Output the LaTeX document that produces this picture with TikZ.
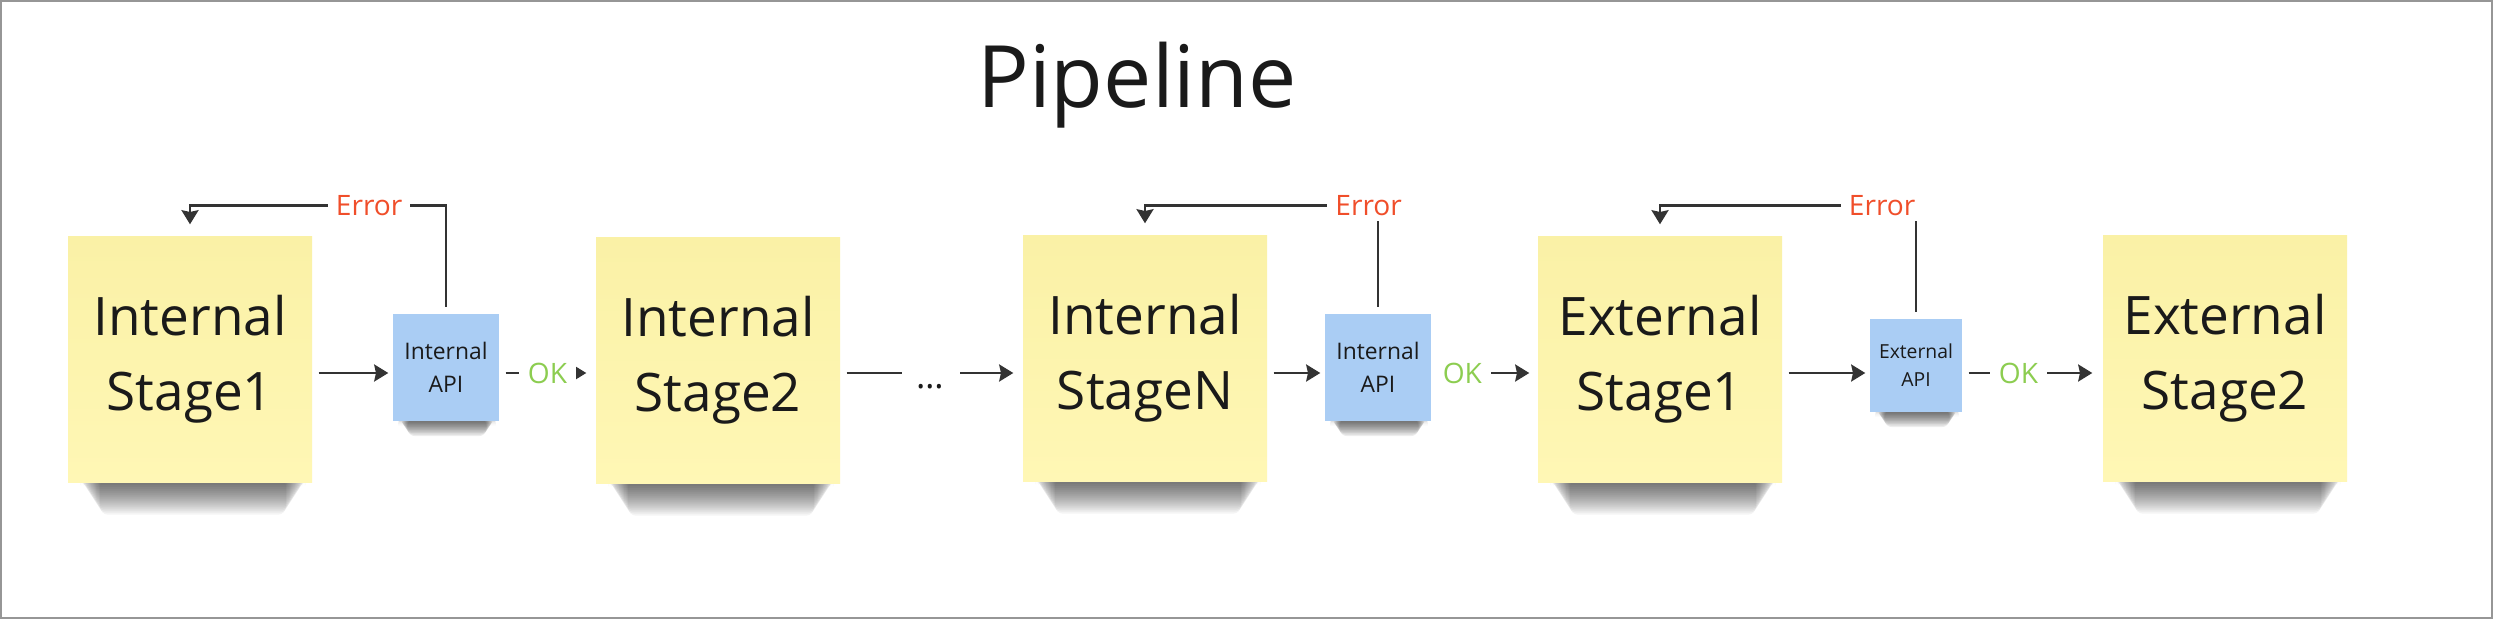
\documentclass[tikz,border=0pt]{standalone}
\usepackage{fontspec}
\setmainfont{Open Sans}
\usetikzlibrary{arrows.meta,backgrounds}

\definecolor{stickyyellow}{RGB}{255,247,181}
\definecolor{stickytop}{RGB}{250,241,166}
\definecolor{stickyblue}{RGB}{170,205,244}
\definecolor{errred}{RGB}{240,78,42}
\definecolor{okgreen}{RGB}{140,205,80}
\definecolor{linegray}{RGB}{51,51,51}
\definecolor{ink}{RGB}{26,26,26}
\definecolor{framegray}{RGB}{150,150,150}

\begin{document}
\begin{tikzpicture}[
  x=0.1mm, y=-0.1mm,
  font=\fontsize{8}{10}\selectfont,
  every node/.style={align=center},
  stage/.style={minimum width=24.4mm, minimum height=24.6mm, inner sep=0pt,
                top color=stickytop, bottom color=stickyyellow, text=ink,
                font=\fontsize{15.1}{21.3}\selectfont},
  api/.style={minimum width=10.6mm, minimum height=10.7mm, inner sep=0pt,
              fill=stickyblue, text=ink, font=\fontsize{6.5}{9.4}\selectfont},
  small api/.style={api, minimum width=9.2mm, minimum height=9.3mm,
                    font=\fontsize{5.5}{8}\selectfont},
  ok/.style={text=okgreen, fill=white, inner xsep=0.9mm, inner ysep=0.3mm},
  err/.style={text=errred, fill=white, inner xsep=0.8mm, inner ysep=0.5mm},
  dots/.style={text=ink, anchor=base, inner xsep=1mm, font=\fontsize{10}{12}\selectfont},
  to/.style={->,>={Stealth[length=4pt,width=4.8pt,inset=0.5pt]},line width=0.8pt,
             draw=linegray,shorten >=0.4mm,shorten <=0.6mm},
  back/.style={to,shorten >=1.1mm},
  note shadow/.style={fill=black, fill opacity=0.045, rounded corners=0.8mm}]

  % frame of the board
  \useasboundingbox (0,0) rectangle (2494,620);
  \draw[framegray, line width=0.6pt] (1,1) rectangle (2492,618);

  \node[text=ink, font=\fontsize{24.5}{30}\selectfont] (title) at (1137,85) {Pipeline};

  % the sticky notes, left to right
  \node[stage] (stage1) at (190,359) {Internal\\Stage1};
  \node[api] (api1) at (446,367) {Internal\\API};
  \node[stage] (stage2) at (718,360) {Internal\\Stage2};
  \node[dots] (dots) at (930,388) {\dots};
  \node[stage] (stageN) at (1145,358) {Internal\\StageN};
  \node[api] (api2) at (1378,367) {Internal\\API};
  \node[stage] (ext1) at (1660,359) {External\\Stage1};
  \node[small api] (api3) at (1916,365) {External\\API};
  \node[stage] (ext2) at (2225,358) {External\\Stage2};

  \coordinate (flow) at (0,373);

  % the main flow
  \draw[to] (stage1.east |- flow) -- (api1.west |- flow);
  \draw[to,shorten >=0.9mm] (api1.east |- flow) -- node[ok]{OK} (stage2.west |- flow);
  \draw[to,-] (stage2.east |- flow) -- (dots.west |- flow);
  \draw[to,shorten >=0.9mm] (dots.east |- flow) -- (stageN.west |- flow);
  \draw[to] (stageN.east |- flow) -- (api2.west |- flow);
  \draw[to,shorten >=0.8mm] (api2.east |- flow) -- node[ok,pos=0.29]{OK} (ext1.west |- flow);
  \draw[to] (ext1.east |- flow) -- (api3.west |- flow);
  \draw[to,shorten >=1mm] (api3.east |- flow) -- node[ok,pos=0.4]{OK} (ext2.west |- flow);

  % error loops back over the top
  \draw[back] (api1.north) -- ++(0,-107) -| node[err,pos=0.15]{Error} (stage1.north);
  \draw[back] (api2.north) -- ++(0,-107) -| node[err,pos=0.02]{Error} (stageN.north);
  \draw[back] (api3.north) -- ++(0,-112) -| node[err,pos=0.066]{Error} (ext1.north);

  % soft shadows under the notes, built from thin layers
  \begin{scope}[on background layer]
    \fill[white] (0,0) rectangle (2494,620);
    \foreach \n in {stage1,stage2,stageN,ext1,ext2}
      \foreach \i in {1,...,16}
        \fill[note shadow] ([xshift=1.2mm+0.13mm*\i,yshift=0.5mm]\n.south west)
          rectangle ([xshift=-0.6mm-0.13mm*\i,yshift=-0.2mm*\i]\n.south east);
    \foreach \n in {api1,api2,api3}
      \foreach \i in {1,...,10}
        \fill[note shadow,fill opacity=0.07] ([xshift=0.5mm+0.1mm*\i,yshift=0.3mm]\n.south west)
          rectangle ([xshift=-0.3mm-0.1mm*\i,yshift=-0.15mm*\i]\n.south east);
  \end{scope}
\end{tikzpicture}
\end{document}
